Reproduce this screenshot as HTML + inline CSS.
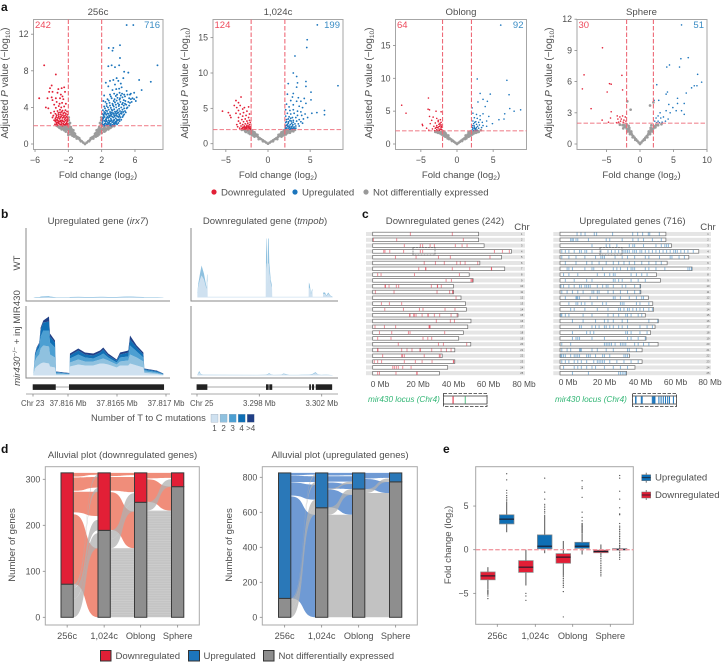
<!DOCTYPE html>
<html lang="en">
<head>
<meta charset="utf-8">
<title>Multi-panel genomics figure</title>
<style>
html,body{margin:0;padding:0;background:#fff;width:722px;height:662px;overflow:hidden}
svg{display:block;font-family:"Liberation Sans",sans-serif;fill:#4f4f4f;font-size:9.6px}
.ltr{font-weight:bold;font-size:12px;fill:#111}
.ttl{font-size:9.6px;text-anchor:middle}
.mid{text-anchor:middle}
.sub{font-size:6.6px}
.yt{font-size:10px;text-anchor:middle}
</style>
</head>
<body>
<svg id="fig" xmlns="http://www.w3.org/2000/svg" width="722" height="662" viewBox="0 0 722 662">
  <defs>
    <pattern id="hatch" width="6" height="2.4" patternUnits="userSpaceOnUse"><rect width="6" height="2.4" fill="#c4c4c4"/><rect width="6" height="0.6" fill="#d0d0d0"/></pattern>
  </defs>
  <text class="ltr" x="1" y="11">a</text>
  <text class="ltr" x="1" y="218">b</text>
  <text class="ltr" x="362" y="218">c</text>
  <text class="ltr" x="1" y="453">d</text>
  <text class="ltr" x="443" y="453">e</text>

  <text class="ttl" x="98" y="15">256c</text>
  <text class="ttl" x="278" y="15">1,024c</text>
  <text class="ttl" x="461" y="15">Oblong</text>
  <text class="ttl" x="641.5" y="15">Sphere</text>

  <text class="yt" transform="translate(8,83) rotate(-90)">Adjusted <tspan font-style="italic">P</tspan> value (−log<tspan class="sub" dy="2">10</tspan><tspan dy="-2">)</tspan></text>
  <text class="yt" transform="translate(188,83) rotate(-90)">Adjusted <tspan font-style="italic">P</tspan> value (−log<tspan class="sub" dy="2">10</tspan><tspan dy="-2">)</tspan></text>
  <text class="yt" transform="translate(372,83) rotate(-90)">Adjusted <tspan font-style="italic">P</tspan> value (−log<tspan class="sub" dy="2">10</tspan><tspan dy="-2">)</tspan></text>
  <text class="yt" transform="translate(552,83) rotate(-90)">Adjusted <tspan font-style="italic">P</tspan> value (−log<tspan class="sub" dy="2">10</tspan><tspan dy="-2">)</tspan></text>

  <text class="mid" x="98" y="178">Fold change (log<tspan class="sub" dy="2">2</tspan><tspan dy="-2">)</tspan></text>
  <text class="mid" x="278" y="178">Fold change (log<tspan class="sub" dy="2">2</tspan><tspan dy="-2">)</tspan></text>
  <text class="mid" x="461" y="178">Fold change (log<tspan class="sub" dy="2">2</tspan><tspan dy="-2">)</tspan></text>
  <text class="mid" x="641.5" y="178">Fold change (log<tspan class="sub" dy="2">2</tspan><tspan dy="-2">)</tspan></text>

  <g>
    <circle cx="214" cy="192" r="2.6" fill="#e21f36"/>
    <text x="221" y="195.5">Downregulated</text>
    <circle cx="295" cy="192" r="2.6" fill="#1c75bc"/>
    <text x="302" y="195.5">Upregulated</text>
    <circle cx="366" cy="192" r="2.6" fill="#999"/>
    <text x="373" y="195.5">Not differentially expressed</text>
  </g>

  <text class="ttl" x="98" y="224">Upregulated gene (<tspan font-style="italic">irx7</tspan>)</text>
  <text class="ttl" x="265" y="224">Downregulated gene (<tspan font-style="italic">tmpob</tspan>)</text>
  <text class="mid" transform="translate(20,263) rotate(-90)">WT</text>
  <text class="mid" transform="translate(20,338) rotate(-90)"><tspan font-style="italic">mir430</tspan><tspan class="sub" dy="-3">−/−</tspan><tspan dy="3"> + inj MIR430</tspan></text>

  <g stroke="#8a8a8a" stroke-width="1" fill="none">
    <path d="M26 228V301H170"/>
    <path d="M26 306V378H170"/>
    <path d="M191 228V301H338"/>
    <path d="M191 306V378H338"/>
    <path d="M26 394H170M191 394H338" stroke="#aaa"/>
  </g>
  <text x="21" y="406" font-size="7.8">Chr 23</text>
  <text x="190" y="406" font-size="7.8">Chr 25</text>
  <text x="91" y="421" font-size="9.4">Number of T to C mutations</text>

  <text class="ttl" x="445" y="224">Downregulated genes (242)</text>
  <text class="ttl" x="632.5" y="224">Upregulated genes (716)</text>
  <text class="mid" x="522" y="230">Chr</text>
  <text class="mid" x="708" y="230">Chr</text>
  <text x="368" y="402" font-size="8.2" font-style="italic" style="fill:#2fb573">mir430 locus (Chr4)</text>
  <text x="555" y="402" font-size="8.2" font-style="italic" style="fill:#2fb573">mir430 locus (Chr4)</text>

  <text class="ttl" x="122.5" y="458">Alluvial plot (downregulated genes)</text>
  <text class="ttl" x="340" y="458">Alluvial plot (upregulated genes)</text>
  <text class="mid" transform="translate(15,545) rotate(-90)">Number of genes</text>
  <text class="mid" transform="translate(232,545) rotate(-90)">Number of genes</text>
  <g>
    <rect x="100.5" y="650.5" width="10.5" height="10.5" fill="#e21f36" stroke="#333"/>
    <text x="115.5" y="659">Downregulated</text>
    <rect x="188.5" y="650.5" width="11" height="10.5" fill="#1c75bc" stroke="#333"/>
    <text x="203.5" y="659">Upregulated</text>
    <rect x="263.5" y="650.5" width="10.5" height="10.5" fill="#8e8e8e" stroke="#333"/>
    <text x="278.5" y="659">Not differentially expressed</text>
  </g>

  <text class="mid" transform="translate(451,545) rotate(-90)">Fold change (log<tspan class="sub" dy="2">2</tspan><tspan dy="-2">)</tspan></text>
  <text x="655" y="480.5">Upregulated</text>
  <text x="655" y="498">Downregulated</text>
</svg>
<script>
/* ---------- panel a data ---------- */
const up256c=[[2.1,2.1],[2.4,2.0],[2.7,2.15],[3.0,2.05],[3.3,2.1],[3.6,2.2],[2.1,2.4],[2.45,2.45],[2.75,2.35],[3.05,2.5],[3.35,2.4],[3.7,2.45],[3.95,2.6],[2.2,2.8],[2.5,2.7],[2.8,2.85],[3.1,2.75],[3.4,2.9],[3.7,2.8],[4.0,2.95],[4.25,2.9],[2.25,3.1],[2.55,3.2],[2.9,3.1],[3.2,3.25],[3.5,3.15],[3.8,3.3],[4.1,3.2],[4.4,3.3],[4.7,3.25],[2.3,3.5],[2.65,3.6],[3.0,3.5],[3.3,3.65],[3.6,3.55],[3.9,3.7],[4.2,3.6],[4.5,3.75],[4.8,3.6],[5.0,3.9],[2.4,3.9],[2.75,4.0],[3.1,3.95],[3.45,4.1],[3.75,4.0],[4.05,4.15],[4.35,4.0],[4.65,4.2],[4.95,4.3],[5.3,4.2],[2.6,4.4],[2.95,4.5],[3.3,4.4],[3.6,4.55],[3.95,4.45],[4.25,4.6],[4.55,4.5],[4.85,4.7],[5.2,4.6],[5.5,4.9],[2.7,4.9],[3.2,5.0],[3.55,4.9],[3.9,5.05],[4.2,5.0],[4.5,5.1],[4.8,5.2],[5.1,5.4],[5.7,5.0],[3.0,5.4],[3.5,5.5],[3.85,5.4],[4.15,5.6],[4.45,5.5],[5.0,5.8],[3.3,5.9],[3.75,6.0],[4.1,6.05],[4.4,6.2],[2.8,6.3],[3.6,6.5],[4.3,6.6],[2.5,6.7],[3.0,6.9],[3.4,7.0],[3.8,7.2],[4.0,6.9],[4.6,7.2],[5.0,13],[5.8,13],[2.85,10.5],[3.4,10.5],[4.2,10.8],[3.3,10.2],[8.7,8.6],[4.2,9.4],[3.2,8.6],[3.6,8.4],[4.1,8.6],[2.8,8.5],[4.7,7.9],[5.2,7.8],[6.5,7],[7.9,6.8],[6.8,5.9],[5.4,5.4],[6.1,4.7],[2.15,2.9],[2.05,3.3],[2.35,2.2],[2.6,2.5],[2.9,2.3],[3.2,2.6],[3.5,2.65],[3.8,2.5],[2.35,3.3],[2.7,3.35],[3.05,3.3],[3.35,3.4],[3.65,3.4],[4.0,3.45],
[2.05,2.2],[2.25,2.1],[2.5,2.25],[2.6,2.1],[2.85,2.2],[3.1,2.2],[3.2,2.0],[3.45,2.25],[3.5,2.05],[3.75,2.3],[3.85,2.15],[4.0,2.3],[4.15,2.5],[2.05,2.55],[2.3,2.55],[2.55,2.6],[2.85,2.6],[2.95,2.45],[3.25,2.4],[3.45,2.55],[3.6,2.35],[3.85,2.65],[4.1,2.7],[4.35,2.65],[4.5,2.95],[2.1,2.7],[2.35,2.95],[2.6,2.85],[2.7,3.0],[2.95,2.95],[3.25,3.0],[3.55,3.0],[3.85,3.05],[4.15,3.05],[4.6,3.1],[2.2,3.25],[2.45,3.4],[2.8,3.3],[3.1,3.1],[3.15,3.45],[3.45,3.3],[3.7,3.15],[3.95,3.4],[4.25,3.35],[4.6,3.5],[4.9,3.45],[2.15,3.7],[2.5,3.65],[2.85,3.75],[3.2,3.75],[3.5,3.8],[3.8,3.55],[4.1,3.85],[4.4,3.5],[4.7,3.9],[5.1,4.0],[5.4,4.5],[2.3,4.1],[2.6,4.15],[3.0,4.2],[3.35,4.25],[3.7,4.3],[4.1,4.3],[4.45,4.35],[4.8,4.4],[5.6,4.6],[5.9,4.9],[6.2,5.1],[2.45,4.6],[2.85,4.75],[3.45,4.7],[3.8,4.75],[4.15,4.85],[4.65,4.8],[5.3,5.0],[2.2,4.7],[2.3,5.3],[3.1,5.2],[3.7,5.25],[4.3,5.3],[4.7,5.4],[5.5,5.5],[5.9,5.6]];
const down256c=[[-2.1,2.05],[-2.4,2.1],[-2.7,2.0],[-3.0,2.15],[-3.3,2.05],[-2.2,2.35],[-2.5,2.4],[-2.8,2.3],[-3.1,2.45],[-3.4,2.35],[-2.15,2.65],[-2.45,2.7],[-2.75,2.6],[-3.05,2.75],[-3.35,2.65],[-3.7,2.6],[-2.2,3.0],[-2.55,2.95],[-2.85,3.05],[-3.15,3.0],[-3.45,2.95],[-3.8,3.1],[-2.3,3.3],[-2.6,3.35],[-2.9,3.25],[-3.2,3.4],[-3.55,3.3],[-4.1,3.4],[-2.35,3.7],[-2.7,3.65],[-3.0,3.75],[-3.3,3.6],[-3.7,3.55],[-2.5,4.1],[-2.85,4.0],[-3.15,4.15],[-3.5,3.95],[-4.4,3.9],[-4.7,4.0],[-2.3,4.4],[-2.75,4.5],[-3.05,4.4],[-3.4,4.6],[-3.7,4.3],[-2.6,4.9],[-3.0,5.0],[-3.5,5.0],[-3.9,4.8],[-2.9,5.4],[-3.3,5.6],[-2.4,5.7],[-3.9,5.7],[-2.8,6.1],[-2.5,6.2],[-3.2,6.0],[-4.3,5.7],[-5.5,5.0],[-4.9,8.6],[-3.5,7.6],[-4.0,6.4],[-4.2,6.1],[-2.7,5.2],[-4.5,5.0],[-4.0,5.1],[-2.25,2.2],[-2.6,2.2],[-2.95,2.55],[-3.25,2.55],[-3.55,2.45],[-2.35,2.85],[-2.65,3.15],[-3.0,3.45],[-2.15,3.55],
[-2.05,2.2],[-2.3,2.2],[-2.55,2.15],[-2.85,2.1],[-3.15,2.25],[-3.4,2.2],[-3.6,2.15],[-2.1,2.5],[-2.35,2.55],[-2.65,2.5],[-2.9,2.45],[-3.2,2.35],[-3.5,2.6],[-2.1,2.85],[-2.4,3.1],[-2.7,2.85],[-2.95,2.9],[-3.25,2.85],[-3.55,2.8],[-2.1,3.2],[-2.45,3.45],[-2.8,3.5],[-3.15,3.2],[-3.4,3.15],[-3.9,2.9]];
const ns256c=[[0,0],[-0.2,0.15],[-0.4,0.3],[-0.6,0.45],[-0.8,0.6],[-1,0.75],[-1.2,0.9],[-1.4,1.05],[-1.6,1.2],[-1.8,1.35],[-2,1.5],[-2.2,1.65],[-2.4,1.75],[-2.7,1.85],[-3,1.9],[-1.5,1.4],[-1.9,1.7],[-2.1,1.9],[-2.4,1.5],[-1.3,0.8],[-1.7,1.05],[-2.5,1.95],[-3.3,1.95],[-0.5,0.3],[-1,0.6],[-1.5,0.9],[-2,1.2],[-2.5,1.5],[-3,1.75],[-3.4,2.0],[-0.7,0.65],[-1.2,1.1],[-1.4,1.5],[-1.7,1.85],[-1.9,2.2],[-1.95,2.6],[-1.8,2.3],[-2.3,1.95],[-2.8,1.6],[-3.2,1.9],[-2,1.0],[-1.95,2.9],[-1.1,0.85],[-1.3,1.2],[-1.5,1.15],[-1.7,1.45],[-1.9,1.45],[-2.1,1.6],[-2.3,1.35],[-2.3,1.7],[-2.6,1.65],[-2.9,1.8],[-1.8,1.65],[-1.6,1.6],[-2.0,1.95],[-0.9,0.75],[-2.7,1.95],[-3.1,1.8],
[0.2,0.15],[0.4,0.3],[0.6,0.45],[0.8,0.6],[1,0.75],[1.2,0.9],[1.4,1.05],[1.6,1.2],[1.8,1.35],[2,1.5],[2.2,1.6],[2.5,1.7],[2.8,1.8],[3.1,1.9],[3.5,1.95],[1.5,1.4],[1.85,1.7],[2.05,1.95],[2.3,1.85],[1.3,0.8],[1.7,1.05],[2.4,1.4],[0.5,0.3],[1,0.6],[1.5,0.9],[2,1.2],[2.5,1.5],[3,1.75],[3.4,2.0],[0.7,0.65],[1.2,1.1],[1.4,1.5],[1.7,1.85],[1.9,2.2],[1.95,2.6],[1.8,2.3],[2.8,1.6],[3.2,1.9],[1.95,2.9],[1.1,0.85],[1.3,1.2],[1.5,1.15],[1.7,1.45],[1.9,1.45],[2.1,1.6],[2.3,1.35],[2.3,1.7],[2.6,1.65],[2.9,1.8],[1.8,1.65],[1.6,1.6],[0.9,0.75],[2.7,1.95],[3.1,1.8]];
const up1024c=[[5.85,16.8],[4.65,14.7],[4.6,13.6],[3.2,12.4],[3,10],[3.4,9.5],[4.5,8.8],[3.5,8.6],[2.4,8.5],[8.3,8.2],[4.5,8.1],[3.4,8],[5.1,7.3],[3,7.1],[2.3,7],[2.9,6.6],[3.6,6.5],[4.3,6.4],[5.1,6.2],[2.7,6.1],[3.4,6],[3.9,6],[4.5,5.7],[2.2,5.6],[3,5.5],[3.7,5.3],[2.5,5.2],[4.1,5.1],[6.7,4.7],[6.7,4.1],[5.8,4.4],[5.2,4.3],[4.7,3.7],[2.1,4.8],[2.6,4.7],[3,4.8],[3.5,4.6],[3.9,4.5],[2.3,4.3],[2.7,4.2],[3.1,4.3],[3.5,4],[4,4],[4.4,4.2],[2.1,3.9],[2.5,3.8],[2.9,3.7],[3.3,3.7],[3.7,3.4],[4.2,3.5],[2.2,3.4],[2.6,3.3],[3,3.3],[3.4,3.2],[3.9,3.1],[2.1,3],[2.4,2.9],[2.8,2.9],[3.2,2.8],[3.6,2.8],[4.1,2.9],[2.2,2.6],[2.5,2.5],[2.9,2.5],[3.3,2.5],[3.7,2.5],[2.1,2.3],[2.4,2.2],[2.7,2.15],[3,2.2],[3.3,2.2],[2.6,2.05],[2.9,2.05],[2.3,2.7],[2.05,2.1],[2.2,2.2],[2.55,2.3],[2.75,2.4],[2.85,2.2],[3.1,2.35],[3.15,2.1],[2.35,2.45],[2.65,2.7],[2.05,2.55],[2.95,2.7],[2.2,3.1],[2.45,3.1],[2.75,3.2],[2.4,3.5],[2.7,3.6],[3,3.05]];
const down1024c=[[-5.4,4.6],[-4.7,4.4],[-4.5,4],[-4.4,3.7],[-3.2,6.6],[-3.8,6.1],[-3.5,5.8],[-4,5.4],[-3.3,5.4],[-3.7,5.1],[-2.8,5.1],[-2.3,5.2],[-3,4.9],[-3.5,4.7],[-2.5,4.6],[-2.9,4.4],[-3.3,4.2],[-3.8,4.3],[-2.2,4.2],[-2.6,4],[-3,3.9],[-3.5,3.7],[-2.3,3.7],[-2.7,3.5],[-3.1,3.4],[-3.5,3.2],[-2.2,3.3],[-2.5,3.2],[-2.9,3.1],[-3.3,2.9],[-3.7,2.7],[-2.1,3],[-2.4,2.9],[-2.7,2.8],[-3,2.7],[-2.2,2.7],[-2.5,2.6],[-2.8,2.5],[-3.2,2.5],[-3.6,2.4],[-2.1,2.4],[-2.4,2.35],[-2.7,2.3],[-3,2.3],[-2.2,2.15],[-2.5,2.1],[-2.8,2.1],[-3.1,2.15],[-2.1,2.05],[-2.4,2.0],[-2.65,2.05],[-2.95,2.05],[-2.3,2.5],[-2.6,2.25],[-2.25,2.3],[-2.55,2.4],[-2.85,2.35],[-3.35,2.2],[-2.35,2.05],[-2.05,2.2]];
const ns1024c=[[0,0],[-0.2,0.16],[-0.4,0.32],[-0.6,0.48],[-0.8,0.64],[-1,0.8],[-1.2,0.96],[-1.4,1.12],[-1.6,1.28],[-1.8,1.44],[-2,1.6],[-2.2,1.7],[-2.5,1.85],[-2.8,1.95],[-1.5,1.4],[-1.9,1.85],[-2.1,1.95],[-1.7,1.15],[-0.6,0.35],[-1.1,0.65],[-1.6,1.0],[-2.1,1.35],[-2.6,1.65],[-3.1,1.95],[-1.25,1.25],[-1.75,1.65],[-1.3,1.1],[-1.5,1.15],[-1.7,1.4],[-1.9,1.55],[-2.1,1.7],[-2.3,1.5],[-2.4,1.85],[-2.7,1.75],[-1.6,1.6],[-1.85,1.2],
[0.2,0.16],[0.4,0.32],[0.6,0.48],[0.8,0.64],[1,0.8],[1.2,0.96],[1.4,1.12],[1.6,1.28],[1.8,1.44],[2,1.6],[2.2,1.65],[2.5,1.75],[2.8,1.85],[3.2,1.95],[1.5,1.4],[1.9,1.9],[2.1,1.98],[1.7,1.15],[0.6,0.35],[1.1,0.65],[1.6,1.0],[2.1,1.3],[2.6,1.55],[3.0,1.75],[1.25,1.25],[1.75,1.65],[1.3,1.1],[1.5,1.15],[1.7,1.4],[1.9,1.55],[2.1,1.7],[2.3,1.5],[2.4,1.85],[2.7,1.75],[1.6,1.6],[1.85,1.2]];
const upOblong=[[6.05,18.1],[2.8,9.9],[6.9,9.7],[7.2,7.5],[3.2,7.7],[4.6,7.6],[7.3,5.4],[8.8,5.2],[7.9,5],[6.6,4.6],[6.5,3.8],[5.8,3.7],[4.9,3.1],[3.6,6.8],[4.2,6.5],[2.9,6.4],[3.9,5.7],[2.1,5.5],[2.2,4.7],[2.7,4.5],[3.2,4.3],[3.6,4.6],[4.4,4.2],[2.4,4],[2.8,3.9],[3.2,3.7],[2.2,3.5],[2.6,3.4],[3,3.3],[3.5,3.3],[4.1,3.5],[2.3,3.1],[2.7,3],[3.1,2.9],[3.6,2.8],[4.1,2.7],[2.1,2.8],[2.4,2.6],[2.7,2.5],[3,2.4],[3.4,2.5],[2.2,2.3],[2.5,2.2],[2.8,2.1],[2.3,2.05],[2.6,2.05],[2.4,2.4],[2.15,2.5],[2.35,2.8],[2.55,2.35],[2.85,2.7],[2.1,2.15],[2.45,3.3]];
const downOblong=[[-7.65,5.9],[-7.05,4.7],[-3.95,7],[-4,5.3],[-3.8,5.2],[-2.9,5],[-2.2,4.9],[-4.8,3],[-4.75,2.8],[-4.2,2.4],[-3.8,4.2],[-3.3,4.1],[-2.8,3.9],[-3.5,3.6],[-2.3,3.7],[-2.6,3.4],[-3,3.2],[-2.2,3.3],[-2.5,3],[-2.8,2.8],[-3.2,2.7],[-3.7,3.1],[-2.1,2.9],[-2.4,2.7],[-2.7,2.5],[-3,2.4],[-3.4,2.3],[-2.2,2.5],[-2.5,2.3],[-2.8,2.2],[-3.9,2.1],[-2.1,2.2],[-2.4,2.1],[-2.65,2.05],[-3.1,2.05],[-2.3,2.9],[-2.6,3.6],[-2.35,3.15],[-2.15,2.65],[-2.55,2.6],[-2.85,2.55],[-2.25,2.25]];
const nsOblong=[[0,0],[-0.2,0.17],[-0.4,0.34],[-0.6,0.51],[-0.8,0.68],[-1,0.85],[-1.2,1.02],[-1.4,1.19],[-1.6,1.36],[-1.8,1.53],[-2,1.7],[-2.2,1.8],[-2.5,1.9],[-2.9,1.95],[-1.5,1.45],[-1.9,1.95],[-1.3,0.85],[-1.7,1.2],[-0.7,0.45],[-1.1,0.75],[-1.6,1.1],[-2.1,1.45],[-2.6,1.7],[-3.0,1.85],[-1.2,1.3],[-1.7,1.75],[-1.3,1.15],[-1.5,1.2],[-1.7,1.5],[-1.9,1.6],[-2.1,1.8],[-2.3,1.6],[-2.5,1.8],[-2.8,1.8],[-1.6,1.65],[-1.85,1.3],
[0.2,0.17],[0.4,0.34],[0.6,0.51],[0.8,0.68],[1,0.85],[1.2,1.02],[1.4,1.19],[1.6,1.36],[1.8,1.53],[2,1.7],[2.2,1.8],[2.5,1.9],[2.9,1.95],[1.5,1.45],[1.9,1.95],[1.3,0.85],[1.7,1.2],[1.6,1.8],[0.7,0.45],[1.1,0.75],[1.6,1.1],[2.1,1.45],[2.6,1.7],[3.0,1.85],[1.2,1.3],[3.3,2.1],[2.6,2.2],[1.3,1.15],[1.5,1.2],[1.7,1.5],[1.9,1.6],[2.1,1.8],[2.3,1.6],[2.5,1.8],[2.8,1.8],[1.85,1.3]];
const upSphere=[[6.2,11.45],[7.2,8.3],[6.1,8.2],[5.9,7.4],[4.4,7.6],[4,7.4],[8.6,6.7],[9.2,5.95],[2.5,5.7],[6.9,4.9],[4.1,5],[3.9,4.8],[5.6,4.4],[2.1,4.2],[2.8,4.2],[8.1,5.6],[8.5,5.6],[7.7,5.4],[6.6,3.9],[5.6,3.9],[4.9,3.5],[4.3,3.8],[5.4,3.2],[4.5,3],[6.2,3.2],[3.9,3.2],[6.6,2.85],[4.2,2.4],[3,3],[3.5,2.6],[2.7,2.7],[2.4,2.5],[3.1,2.5],[2.2,2.2],[2.7,2.2],[3.3,2.1],[3.8,2.2],[2.5,2.05],[2.9,2.05]];
const downSphere=[[-5.6,9.25],[-8.35,6.65],[-2.7,6.6],[-8.6,5.3],[-4.55,5.8],[-4.3,5.75],[-4.9,5],[-2.6,5.2],[-7.3,3.4],[-4.3,3.1],[-5.65,2.3],[-4.4,2.5],[-4.7,2.1],[-3.4,2.7],[-3,2.6],[-2.6,2.7],[-2.2,2.6],[-3.3,2.4],[-2.8,2.4],[-2.4,2.3],[-3.2,2.1],[-2.9,2.2],[-2.5,2.1],[-2.1,2.2],[-3.5,2.05]];
const nsSphere=[[0,0],[-0.2,0.15],[-0.4,0.3],[-0.6,0.45],[-0.8,0.6],[-1,0.75],[-1.2,0.9],[-1.4,1.05],[-1.6,1.2],[-1.8,1.35],[-2,1.5],[-2.3,1.65],[-2.6,1.8],[-3,1.85],[-2,1.9],[-1.7,1.75],[-1.9,4.1],[-1.4,3.3],[-0.7,0.4],[-1.1,0.65],[-1.5,0.95],[-1.9,1.2],[-1.3,1.2],[-1.6,1.55],[-2.5,1.5],[-1.3,1.05],[-1.5,1.1],[-1.7,1.35],[-1.9,1.45],[-2.1,1.7],[-2.4,1.8],[-1.6,1.4],
[0.2,0.15],[0.4,0.3],[0.6,0.45],[0.8,0.6],[1,0.75],[1.2,0.9],[1.4,1.05],[1.6,1.2],[1.8,1.35],[2,1.5],[2.3,1.6],[2.7,1.8],[3.2,1.9],[1.7,1.8],[2,4],[1.5,3.7],[0.7,0.4],[1.1,0.65],[1.5,0.95],[1.9,1.2],[1.3,1.2],[1.6,1.55],[1.3,1.05],[1.5,1.1],[1.7,1.35],[1.9,1.45],[2.1,1.7],[2.4,1.8],[1.6,1.4]];
const xTicks256c=[-6,-2,2,6];const yTicks256c=[0,4,8,12];
const xTicks1024c=[-5,0,5];const yTicks1024c=[0,5,10,15];
const xTicksOblong=[-5,0,5];const yTicksOblong=[0,5,10,15];
const xTicksSphere=[-5,0,5,10];const yTicksSphere=[0,3,6,9,12];
const countsDown=['242','124','64','30'];
const countsUp=['716','199','92','51'];

/* ---------- panel b data ---------- */
const trackColors=['#cfe1f0','#8fc1df','#4c9fd2','#0f6fb5','#203f86'];
const irx7X=[-0.354,-0.337,-0.32,-0.293,-0.279,-0.252,-0.194,-0.184,-0.133,-0.122,0.014,0.02,0.105,0.173,0.258,0.327,0.36,0.41,0.497,0.531,0.615,0.633,0.701,0.769,0.779,0.905,0.973];
const irx7Mut1=[0,7,9,11,12,13,12,9,8,1,0.7,9,11,10,10,12,12,11,8,10,10,12,10,8,2.5,1.5,0.5];
const irx7Mut2=[0,7,9,10,15,17,17,12,10,1,0.5,4,5,4,4,4,5,4,3,4,5,9,8,6,1.5,1,0.4];
const irx7Mut3=[0,5,6,7,12,15,16,12,10,1,0.5,4,5,4,3,4,5,3,2,4,4,9,6,4,1.5,1,0.4];
const irx7Mut4=[0,2,3,4,7,8,9,6,5,0.6,0.4,3,4,3,3,3,4,2,2,3,4,6,4,3,1,1,0.4];
const irx7Mut5=[0,1,1,1,2,2,5,3,2,0.4,0.4,2,2,2,2,2,2,2,1,2,2,4,2,2,0.5,0.5,0.3];
const irx7Wt1=[0,0.4,0.4,0.4,0.5,0.6,0.7,0.6,0.4,0.4,0.4,0.5,0.6,0.5,0.5,0.6,0.6,0.5,0.5,0.6,0.7,0.7,0.6,0.5,0.4,0.4,0.2];
const irx7Wt2=[0,0.2,0.3,0.3,0.4,0.5,0.6,0.5,0.3,0.1,0.1,0.3,0.3,0.3,0.3,0.3,0.3,0.3,0.3,0.3,0.4,0.4,0.3,0.3,0.2,0.2,0.1];
const irx7Wt3=[0,0.1,0.2,0.2,0.3,0.4,0.4,0.3,0.2,0.1,0.1,0.2,0.2,0.2,0.2,0.2,0.2,0.2,0.2,0.2,0.3,0.3,0.2,0.2,0.1,0.1,0.1];
const tmpobWtX=[-3.97,-3.91,-3.8,-3.7,-3.55,-3.38,-3.35,-3.33,-3.31,0.41,0.43,0.47,0.49,0.51,0.56,0.6,0.64,0.73,0.81,0.83,3.16,3.18,3.23,3.31,3.4,3.42,4.08,4.1,4.21,4.3,4.42,4.55,4.7];
const tmpobWt1=[4,11,18,22,18,8,16,16,0.7,0.7,26,34,34,3,34,34,26,14,10,0.7,0.7,10,9,3,7,0.7,0.7,3.5,3.5,1.4,3.5,1.4,0.5];
const tmpobWt2=[1,3,6,10,6,2,7,7,0,0,16,25,25,2,25,25,9,4,2,0,0,5,4,1,2,0,0,1.5,1.5,0.6,1.5,0.6,0.2];
const tmpobMutX=[-3.97,-3.85,-3.75,-3.6,-0.1,0.4,0.55,0.62,0.75,0.9,1.4,1.55,1.7,1.9,2.5,3.2,3.4,3.6,3.75,3.95,4.3,4.7];
const tmpobMut1=[0.5,3,1,0.5,0.4,0.5,1,1.6,1,0.4,0.5,1.4,1,0.4,0.4,0.7,1,2.4,1,0.4,0.6,0.3];
const tmpobMut2=[0.2,1.5,0.5,0.2,0.2,0.2,0.5,0.8,0.3,0.2,0.2,0.6,0.5,0.2,0.2,0.3,0.5,1,0.3,0.2,0.3,0.1];
const genomeTickLabelsIrx7=['37.816 Mb','37.8165 Mb','37.817 Mb'];
const genomeTickKbIrx7=[0,0.5,1];
const genomeTickLabelsTmpob=['3.298 Mb','3.302 Mb'];
const genomeTickKbTmpob=[0,4];
const irx7Exons=[[-0.36,-0.125],[0.01,0.98]];
const tmpobExons=[[-4.02,-3.33],[0.43,0.6],[0.64,0.83],[3.2,3.31],[3.38,3.51],[3.62,4.67]];
const mutationLabels=['1','2','3','4','>4'];

/* ---------- panel c data ---------- */
const chrLengths=[59.6,59.6,62.7,78.1,72.5,60.3,74.3,54.3,56.5,45.4,45.5,49.7,52.2,52.7,48.0,55.3,53.5,51.0,48.4,55.2,46.2,39.1,46.2,42.2,37.5];
const downMarks=[[21.2,44.8],[0.4,13.5,51],[17.8,26.8,28.1,32.3,34.7,46.5,50.3,53.1],[6.2,6.9,9.6,17.4,26.8,28.1,68.5,73,76.9],[12.8,24.4,37,43.7,66],[29,35.3,40.3,47.3,49.3,52,59.1],[25.9,29.8,29.9,44.8,54.6,66.8,66.9],[2.8,4.7,23.5,48.8],[41.3,44.3,55.3,55.9,56.1],[6.9,7.2,9.2,13.3,14.6,33,36.4,36.5,38.6],[1.5,12,36.2,43.3,45,45.1],[46.9],[4.9,9.4,16.3],[6.8,17.3,26.3,28.3,40.7,46.3],[20.8,21,23.1,23.4,24.4,27.8,31.1,31.2,34.7,37.7,44.1,47.5],[35.8,43.7,46],[1.3,6.6,12.9,31.7,32,32.3],[3.8,10.7,20.1,21,40.5],[2.8,10.3,28.3,31,33.2],[14.4,37,39.8,52.9],[2.8,2.9,16.3,19.3,22.1,26.6,26.8,33.2,38.5,41.5,44.1],[5.6,16.3,16.8,17.8,29,37.5,38],[0.9,2.8,5,17.8,24,27.8,33.4,45.4,45.6],[11.3,12.2,13.3,14.4,16.9,21.6],[2.8,3.8,13.1,24.8,25]];
const upMarks=[[9.6,11.8,14.1,19.3,20.6,29.6,40.9,43.7,46.5,49.7,50.5,55.9],[6,6.8,7.5,9,10,16,26,28,35,41,44,47,52,57],[18,26,28,32,39,41,42,47,54,57,59,60,61],[1,3,5,8,11,12,14,15,18,23,27,29,31,33,35,36,37,38,39,41,42,43,45,46,48,50,52,54,56,58,60,62,64,65,66,68,70,72,75],[1,5,9,14,20,23,24,25,31,35,38,42,48,50,56,62,63,67,70],[3,9,15,18,22,26,30,33,36,39,42,46,50,54,57],[4,5,7,14,18,19,24,30,32,34,38,40,41,42,48,50,54,59,72,73,74],[2,5,10,21,25,28,30,31,40,43,46,49],[3,8,15,18,30,31,33,35,40,44,48],[0.5,2,5,8,11,12,14,15,16,17,21,24,26,27,30,35,37,42,45],[1,4,7,10,13,18,19,21,22,27,30,34,38,42,45],[3,9,9.5,10,11,17,21,30,31,34,39,43,46,47],[5,9,10,12,14,18,24,26,34,35,36,43,45,50],[6,8,14,21,27,33,34,36,38,39,41,43,45,47,50,52],[0.5,1,3,5,13,18,27,30,33,37,38,40,44,46],[7,13,20,25,27,30,35,38,50,55],[11,12,18,20,22,25,26,28,30,33,35,38,45,49,52],[7,15,17,19,37,38,40,45,49],[7,9,10,11,18,25,38,40,44,48],[1,6,25,26,27,28,29,31,34,35,36,37,42,44,47,50],[1,4,6,11,11.5,12,18,21,26,30,38,39,43],[0.5,1,2,3,6,8,9,10,11,15,16,17,20,24,25,28,36,37,38],[1,3,5,8,10,12,15,19,21,22,23,24,25,28,32,36,40,44],[2,8,10,12,15,18,20,25,30,34,38],[7,16,33,34,35,36,37]];
const mbTickLabels=['0 Mb','20 Mb','40 Mb','60 Mb','80 Mb'];
const locusUpMarks=[0.07,0.08,0.2,0.22,0.45,0.47,0.49,0.51,0.6,0.65,0.7,0.75,0.8,0.84,0.93];
const locusDownMarksRed=[0.22];
const locusDownMarksGreen=[0.5];

/* ---------- panel d data ---------- */
const stages=['256c','1,024c','Oblong','Sphere'];
const notDeDown=[72,189,250,284];
const regDown=[242,125,64,30];
const notDeUp=[108,626,733,774];
const regUp=[717,199,92,51];
const yTicksAllDown=[0,100,200,300];
const yTicksAllUp=[0,200,400,600,800];
const flowsDown=[
 [0,72,224,0,150,'R'],[0,228,273,220,273,'R'],[0,275,304,282,305,'R'],[0,306,314,310,314,'R'],
 [0,0,40,150,183,'N'],[0,40,64,189,212,'N'],[0,64,68,273,281,'N'],[0,68,72,305,310,'N'],
 [1,190,272,150,230,'R'],[1,275,305,272,305,'R'],[1,307,314,309,314,'R'],
 [1,0,150,0,150,'F'],[1,150,170,230,250,'N'],[1,170,189,250,270,'N'],
 [2,251,300,232,284,'R'],[2,302,314,303,314,'R'],[2,0,232,0,232,'F'],[2,232,250,284,300,'N']];
const flowsUp=[
 [0,108,691,0,586,'R'],[0,695,770,672,758,'R'],[0,772,808,773,806,'R'],[0,810,825,815,825,'R'],
 [0,0,50,586,628,'N'],[0,50,100,628,672,'N'],[0,100,104,806,815,'N'],[0,104,108,758,773,'N'],
 [1,628,730,586,700,'R'],[1,735,770,733,762,'R'],[1,775,806,775,806,'R'],[1,810,825,812,825,'R'],
 [1,0,586,0,586,'G'],[1,586,628,700,733,'N'],[1,730,735,762,775,'N'],
 [2,733,790,710,774,'R'],[2,793,825,797,825,'R'],[2,0,710,0,710,'G'],[2,710,733,774,793,'N']];

/* ---------- panel e data ---------- */
const boxCats=['256c','1,024c','Oblong','Sphere'];
const boxTicks=[-5,0,5];
const downLow=[-4.5,-4.1,-3,-0.7];
const downQ1=[-3.45,-2.6,-1.55,-0.35];
const downMed=[-3,-2,-0.85,-0.2];
const downQ3=[-2.55,-1.25,-0.45,-0.05];
const downHigh=[-2,0,1,0.6];
const upLow=[2,-0.4,-0.55,-0.2];
const upQ1=[2.95,0.1,0.15,-0.05];
const upMed=[3.5,0.4,0.4,0.05];
const upQ3=[4,1.7,0.85,0.1];
const upHigh=[5.5,4,1.8,0.3];
const downOutliers=[[-4.6,-4.7,-4.8,-4.9,-5,-5.1,-5.3,-5.6],[-5,-5.3,-5.8],[-3.1,-3.3,-3.5,-3.7,-3.9,-4.1,-4.3,-4.8,-7.7],[-0.8,-1,-1.2,-1.4,-1.6,-1.8,-2,-2.2,-2.4,-2.6,-2.8,-3]];
const upOutliers=[[5.6,5.8,6,6.2,6.5,6.8,8,8.7],[4.2,4.4,4.6,4.8,5,5.2,5.8,6.6,8.2],[1.9,2,2.1,2.2,2.3,2.4,2.5,2.6,2.7,2.8,2.9,3,3.3,3.7,4.3,6,7,7.2,7.9],[0.4,0.5,0.7,0.9,1.1,1.3,1.5,1.7,1.9,2.1,2.3,2.5,2.7,3,4,4.1,4.8,5.8,6.7,8.2,8.5,-0.3,-0.5,-0.7,-0.9,-1.1]];

/* ---------- drawing ---------- */
const NS='http://www.w3.org/2000/svg';
const fig=document.getElementById('fig');
function mk(tag,attrs,parent,text){
  const el=document.createElementNS(NS,tag);
  for(const k in attrs){el.setAttribute(k,attrs[k]);}
  if(text!==undefined){el.textContent=text;}
  (parent||fig).appendChild(el);
  return el;
}

function drawVolcano(c){
  const sx=v=>c.x0+v*c.kx, sy=v=>c.y0-v*c.ky;
  const g=mk('g',{});
  
  
  const frame=mk('rect',{x:c.l,y:19.5,width:c.r-c.l,height:130,fill:'none',stroke:'#a6a6a6','stroke-width':1},g);
  
  
  c.xTicks.forEach(t=>{
    const tk=mk('line',{x1:sx(t),x2:sx(t),y1:149.5,y2:152,stroke:'#888','stroke-width':0.8},g);
    
    
    const lb=mk('text',{x:sx(t),y:163,'text-anchor':'middle','font-size':8.8},g,String(t).replace('-','−'));
    
    
  });
  c.yTicks.forEach(t=>{
    const tk=mk('line',{x1:c.l-2.5,x2:c.l,y1:sy(t),y2:sy(t),stroke:'#888','stroke-width':0.8},g);
    
    
    const lb=mk('text',{x:c.l-5,y:sy(t)+3,'text-anchor':'end','font-size':8.8},g,String(t));
    
    
  });
  c.ns.forEach(p=>{
    const d=mk('circle',{cx:sx(p[0]),cy:sy(p[1]),r:1.35,fill:'#9c9c9c'},g);
    
    
  });
  c.down.forEach(p=>{
    const d=mk('circle',{cx:sx(p[0]),cy:sy(p[1]),r:c.rp,fill:'#e21f36'},g);
    
    
  });
  c.up.forEach(p=>{
    const d=mk('circle',{cx:sx(p[0]),cy:sy(p[1]),r:c.rp,fill:'#1c75bc'},g);
    
    
  });
  [-2,2].forEach(v=>{
    const l=mk('line',{x1:sx(v),x2:sx(v),y1:19.5,y2:149.5,stroke:'#ee6a78','stroke-width':1.1,'stroke-dasharray':'4.5 2'},g);
    
    
  });
  const h=mk('line',{x1:c.l,x2:c.r,y1:sy(2),y2:sy(2),stroke:'#ee6a78','stroke-width':1.1,'stroke-opacity':0.8,'stroke-dasharray':'4.5 2'},g);
  
  
  const a=mk('text',{x:c.l+1.5,y:28,'font-size':9.5,style:'fill:#ee4a5c'},g,c.nDown);
  
  
  const b=mk('text',{x:c.r-3,y:28,'font-size':9.5,'text-anchor':'end',style:'fill:#3a8cc4'},g,c.nUp);
  
  
}
drawVolcano({id:'256c',l:33.5,r:163,x0:85,kx:8.33,y0:144,ky:9.15,xTicks:xTicks256c,yTicks:yTicks256c,up:up256c,down:down256c,ns:ns256c,nDown:countsDown[0],nUp:countsUp[0],rp:0.95});
drawVolcano({id:'1024c',l:213,r:343,x0:268,kx:8.43,y0:143.7,ky:7.07,xTicks:xTicks1024c,yTicks:yTicks1024c,up:up1024c,down:down1024c,ns:ns1024c,nDown:countsDown[1],nUp:countsUp[1],rp:0.9});
drawVolcano({id:'oblong',l:395.5,r:526.5,x0:457,kx:7.23,y0:144,ky:6.57,xTicks:xTicksOblong,yTicks:yTicksOblong,up:upOblong,down:downOblong,ns:nsOblong,nDown:countsDown[2],nUp:countsUp[2],rp:0.8});
drawVolcano({id:'sphere',l:577,r:707,x0:640,kx:6.7,y0:144,ky:10.4,xTicks:xTicksSphere,yTicks:yTicksSphere,up:upSphere,down:downSphere,ns:nsSphere,nDown:countsDown[3],nUp:countsUp[3],rp:0.8});

function drawStack(xs,layers,sx,base,name){
  const cum=xs.map(()=>0);
  layers.forEach((layer,i)=>{
    const lower=cum.slice();
    layer.forEach((v,j)=>{cum[j]+=v;});
    let d='';
    xs.forEach((x,j)=>{d+=(j?'L':'M')+sx(x).toFixed(2)+' '+(base-cum[j]).toFixed(2);});
    for(let j=xs.length-1;j>=0;j--){d+='L'+sx(xs[j]).toFixed(2)+' '+(base-lower[j]).toFixed(2);}
    const p=mk('path',{d:d+'Z',fill:trackColors[i]});
    
    
  });
}
const irx7Sx=v=>68+v*98;
const tmpobSx=v=>259.3+v*15.6;
drawStack(irx7X,[irx7Wt1,irx7Wt2,irx7Wt3],irx7Sx,298,'irx7-wt-coverage');
drawStack(irx7X,[irx7Mut1,irx7Mut2,irx7Mut3,irx7Mut4,irx7Mut5],irx7Sx,375.5,'irx7-mutant-coverage');
drawStack(tmpobWtX,[tmpobWt1,tmpobWt2],tmpobSx,297.5,'tmpob-wt-coverage');
drawStack(tmpobMutX,[tmpobMut1,tmpobMut2],tmpobSx,375.5,'tmpob-mutant-coverage');

function drawGene(exons,sx,name){
  const first=sx(exons[0][0]),last=sx(exons[exons.length-1][1]);
  const line=mk('line',{x1:first,x2:last,y1:387,y2:387,stroke:'#555','stroke-width':0.6});
  
  
  exons.forEach(e=>{
    const r=mk('rect',{x:sx(e[0]),y:384.3,width:sx(e[1])-sx(e[0]),height:5.6,fill:'#222'});
    
    
  });
}
drawGene(irx7Exons,irx7Sx,'irx7');
drawGene(tmpobExons,tmpobSx,'tmpob');

function drawGenomeTicks(kb,labels,sx,extra){
  kb.forEach((k,i)=>{
    const t=mk('line',{x1:sx(k),x2:sx(k),y1:394,y2:396.5,stroke:'#888','stroke-width':0.8});
    
    
    const l=mk('text',{x:sx(k),y:406,'text-anchor':'middle','font-size':7.8},fig,labels[i]);
    
    
  });
  const t0=mk('line',{x1:extra,x2:extra,y1:394,y2:396.5,stroke:'#888','stroke-width':0.8});
  
  
}
drawGenomeTicks(genomeTickKbIrx7,genomeTickLabelsIrx7,irx7Sx,33);
drawGenomeTicks(genomeTickKbTmpob,genomeTickLabelsTmpob,tmpobSx,197);

mutationLabels.forEach((lab,i)=>{
  const x=211+i*9.05;
  const s=mk('rect',{x:x,y:414.3,width:7,height:8,fill:trackColors[i],stroke:'#8899aa','stroke-width':0.3});
  
  
  const t=mk('text',{x:x+3.5,y:431,'text-anchor':'middle','font-size':8},fig,lab);
  
  
});

function drawKaryotype(cfg){
  const g=mk('g',{});
  
  
  const sx=mb=>cfg.x0+mb*1.777;
  chrLengths.forEach((len,i)=>{
    const y=234+i*5.8;
    const band=mk('rect',{x:cfg.bl,y:y-2,width:cfg.br-cfg.bl,height:4,fill:'#e5e5e5'},g);
    
    
    const rect=mk('rect',{x:sx(0),y:y-1.8,width:len*1.777,height:3.6,fill:'#fff',stroke:'#6a6a6a','stroke-width':0.7},g);
    
    
    cfg.marks[i].forEach(m=>{
      const ln=mk('line',{x1:sx(m),x2:sx(m),y1:y-1.5,y2:y+1.5,stroke:cfg.color,'stroke-width':1,'stroke-opacity':0.5},g);
      
      
    });
    const lb=mk('text',{x:cfg.lx,y:y+0.9,'text-anchor':'middle','font-size':2.6},g,String(i+1));
    
    
  });
  cfg.tickX.forEach((x,i)=>{
    const t=mk('text',{x:x,y:cfg.tickY,'text-anchor':'middle','font-size':8.4},g,mbTickLabels[i]);
    
    
  });
  const inset=mk('rect',{x:cfg.x0+cfg.dx,y:247.5,width:22,height:7.5,fill:'none',stroke:'#555','stroke-width':0.6,'stroke-dasharray':'2 1'},g);
  
  
}
drawKaryotype({id:'down',x0:372.7,bl:366,br:525,lx:521.7,color:'#e21f36',marks:downMarks,dx:40.3,tickX:[380,418,453.5,488.5,524],tickY:387});
drawKaryotype({id:'up',x0:560,bl:553.3,br:711,lx:708,color:'#1c75bc',marks:upMarks,dx:40,tickX:[568,604.5,640.5,675.5,710],tickY:385});

function drawLocus(cfg){
  const outer=mk('rect',{x:cfg.l,y:393.5,width:cfg.w,height:13,fill:'none',stroke:'#333','stroke-width':0.8,'stroke-dasharray':'3.5 1.5'});
  
  
  const inner=mk('rect',{x:cfg.l,y:396,width:cfg.w,height:8,fill:'#fff',stroke:'#444','stroke-width':0.8});
  
  
  cfg.sets.forEach(s=>{
    s.values.forEach(v=>{
      const m=mk('line',{x1:cfg.l+v*cfg.w,x2:cfg.l+v*cfg.w,y1:396.5,y2:403.5,stroke:s.color,'stroke-width':1});
      
      
    });
  });
}
drawLocus({l:443.5,w:43.5,sets:[{values:locusDownMarksRed,color:'#e21f36'},{values:locusDownMarksGreen,color:'#4fbf80'}]});
drawLocus({l:632.5,w:44,sets:[{values:locusUpMarks,color:'#1c75bc'}]});

function drawAlluvial(cfg){
  const sy=v=>617.3-v*cfg.k;
  const g=mk('g',{});
  
  
  const frame=mk('rect',{x:cfg.l,y:466.7,width:cfg.r-cfg.l,height:158.3,fill:'none',stroke:'#aaa','stroke-width':1},g);
  
  
  cfg.flows.forEach(f=>{
    const xa=cfg.xs[f[0]]+cfg.bw,xb=cfg.xs[f[0]+1],span=xb-xa;
    const c1=xa+span*0.62,c2=xb-span*0.62;
    const d='M'+xa+' '+sy(f[1])+'C'+c1+' '+sy(f[1])+' '+c2+' '+sy(f[3])+' '+xb+' '+sy(f[3])+
      'L'+xb+' '+sy(f[4])+'C'+c2+' '+sy(f[4])+' '+c1+' '+sy(f[2])+' '+xa+' '+sy(f[2])+'Z';
    let col='#b0b0b0';
    if(f[5]==='R'){col=cfg.flowColor;}
    if(f[5]==='F'){col='url(#hatch)';}
    if(f[5]==='G'){col='#c2c2c2';}
    const p=mk('path',{d:d,fill:col,'fill-opacity':f[5]==='N'?0.75:1},g);
    
    
  });
  cfg.xs.forEach((x,i)=>{
    const a=mk('rect',{x:x,y:sy(cfg.grey[i]),width:cfg.bw,height:cfg.grey[i]*cfg.k,fill:'#8e8e8e',stroke:'#3a3a3a','stroke-width':1},g);
    
    
    const b=mk('rect',{x:x,y:sy(cfg.grey[i]+cfg.reg[i]),width:cfg.bw,height:cfg.reg[i]*cfg.k,fill:cfg.barColor,stroke:'#3a3a3a','stroke-width':1},g);
    
    
    const tk=mk('line',{x1:x+cfg.bw/2,x2:x+cfg.bw/2,y1:625,y2:627.5,stroke:'#888','stroke-width':0.8},g);
    
    
    const lb=mk('text',{x:x+cfg.bw/2,y:639,'text-anchor':'middle','font-size':9.2},g,stages[i]);
    
    
  });
  cfg.ticks.forEach(t=>{
    const tk=mk('line',{x1:cfg.l-2.5,x2:cfg.l,y1:sy(t),y2:sy(t),stroke:'#888','stroke-width':0.8},g);
    
    
    const lb=mk('text',{x:cfg.l-5,y:sy(t)+3,'text-anchor':'end','font-size':8.8},g,String(t));
    
    
  });
}
drawAlluvial({id:'down',l:45.3,r:199.3,k:0.46,xs:[61,98,134.5,171.5],bw:12.3,flows:flowsDown,grey:notDeDown,reg:regDown,ticks:yTicksAllDown,flowColor:'#f08d7a',barColor:'#e21f36'});
drawAlluvial({id:'up',l:262.3,r:417.3,k:0.175,xs:[278.5,315.5,352.5,389.5],bw:12.3,flows:flowsUp,grey:notDeUp,reg:regUp,ticks:yTicksAllUp,flowColor:'#6f9ad4',barColor:'#2a78b8'});

(function(){
  const sy=v=>549.7-v*8.73;
  const cx=[497.3,535.3,572.7,610.3];
  const g=mk('g',{});
  
  
  const frame=mk('rect',{x:475.7,y:466.7,width:157.6,height:157.6,fill:'none',stroke:'#a6a6a6','stroke-width':1},g);
  
  
  boxTicks.forEach(t=>{
    const tk=mk('line',{x1:473.2,x2:475.7,y1:sy(t),y2:sy(t),stroke:'#888','stroke-width':0.8},g);
    
    
    const lb=mk('text',{x:468.5,y:sy(t)+3,'text-anchor':'end','font-size':8.8},g,String(t).replace('-','−'));
    
    
  });
  function box(x,low,q1,med,q3,high,outs,color,name){
    const w=mk('line',{x1:x,x2:x,y1:sy(low),y2:sy(high),stroke:'#555','stroke-width':1},g);
    
    
    const b=mk('rect',{x:x-7.3,y:sy(q3),width:14.6,height:sy(q1)-sy(q3),fill:color,stroke:'#888','stroke-width':0.7},g);
    
    
    const m=mk('line',{x1:x-7.3,x2:x+7.3,y1:sy(med),y2:sy(med),stroke:'#1a1a2a','stroke-width':1.1},g);
    
    
    outs.forEach(v=>{
      const o=mk('circle',{cx:x,cy:sy(v),r:0.6,fill:'#444'},g);
      
      
    });
  }
  boxCats.forEach((c,i)=>{
    box(cx[i]-9.4,downLow[i],downQ1[i],downMed[i],downQ3[i],downHigh[i],downOutliers[i],'#e21f36','down-'+i);
    box(cx[i]+9.4,upLow[i],upQ1[i],upMed[i],upQ3[i],upHigh[i],upOutliers[i],'#0f6fb5','up-'+i);
    const tk=mk('line',{x1:cx[i],x2:cx[i],y1:624.3,y2:626.8,stroke:'#888','stroke-width':0.8},g);
    
    
    const lb=mk('text',{x:cx[i],y:639,'text-anchor':'middle','font-size':9.2},g,c);
    
    
  });
  const zero=mk('line',{x1:475.7,x2:633.3,y1:sy(0),y2:sy(0),stroke:'#f19aa2','stroke-width':1.3,'stroke-dasharray':'4.5 2'},g);
  
  
  const keys=[[477.7,'#0f6fb5'],[495,'#e21f36']];
  keys.forEach(k=>{
    const w=mk('line',{x1:646.2,x2:646.2,y1:k[0]-5,y2:k[0]+5,stroke:'#555','stroke-width':0.8},g);
    
    
    const r=mk('rect',{x:641.7,y:k[0]-3,width:9,height:6,fill:k[1],stroke:'#777','stroke-width':0.5},g);
    
    
    const m=mk('line',{x1:641.7,x2:650.7,y1:k[0],y2:k[0],stroke:'#1a1a2a','stroke-width':0.8},g);
    
    
  });
})();
</script>
</body>
</html>
